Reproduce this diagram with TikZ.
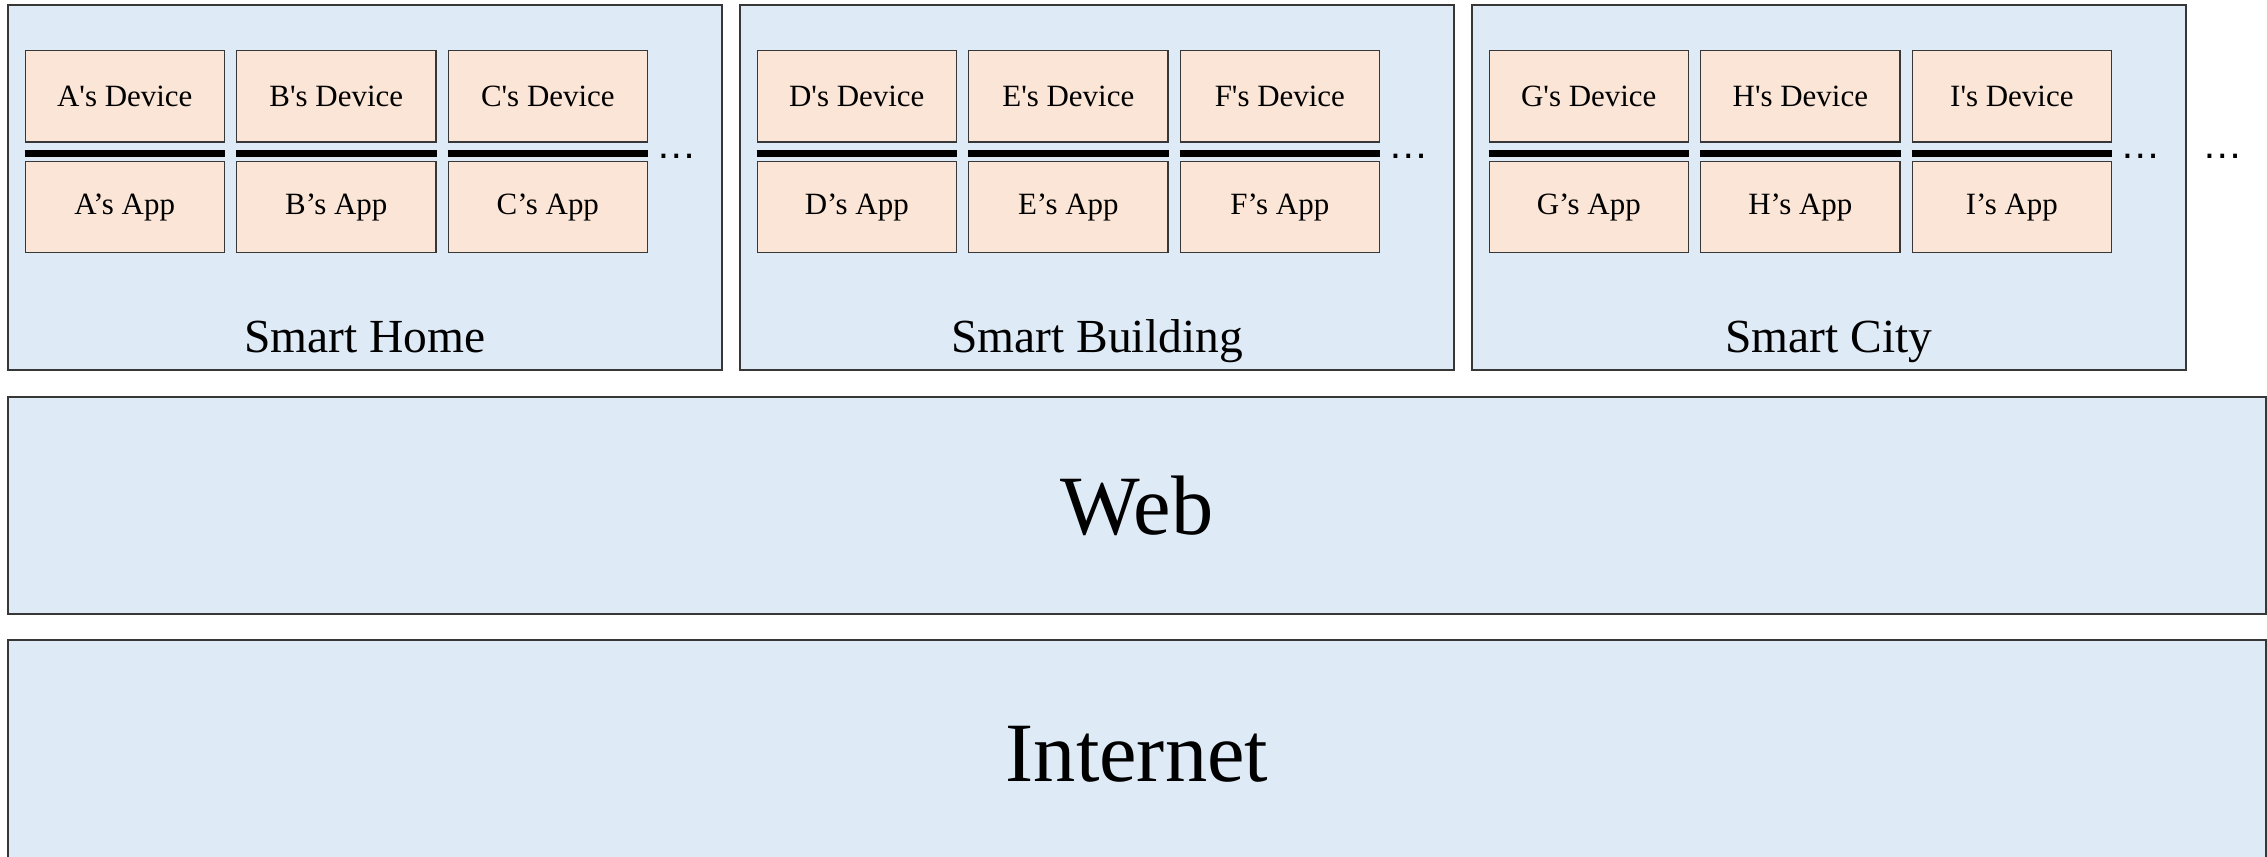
\documentclass[tikz,border=0pt]{standalone}
\usepackage{fontspec}
\setmainfont{Liberation Serif}
\setsansfont{Liberation Sans}
\definecolor{palesky}{RGB}{222,234,246}
\definecolor{palepeach}{RGB}{251,229,214}
\definecolor{edgegrey}{RGB}{55,55,55}
\usetikzlibrary{positioning}

\begin{document}
\begin{tikzpicture}[x=0.01cm,y=-0.01cm,
    layer/.style={draw=edgegrey, fill=palesky, line width=0.45pt, inner sep=0pt},
    unit/.style={draw=edgegrey, fill=palepeach, line width=0.4pt, inner sep=0pt,
      minimum width=1.99cm, minimum height=0.91cm, font=\fontsize{8.8}{10}\selectfont},
    grouptitle/.style={anchor=base, inner sep=0pt, font=\fontsize{13.5}{16}\selectfont},
    bigtitle/.style={font=\fontsize{24}{28}\selectfont},
    link/.style={line width=1.9pt},
    more/.style={anchor=base west, inner sep=0pt, font=\sffamily\fontsize{11.5}{12}\selectfont}]
  \useasboundingbox (0,0) rectangle (2267,856);

  % the three application areas
  \foreach \g/\x/\title/\p/\q/\r in {home/7/Smart Home/A/B/C,
      building/739/Smart Building/D/E/F, city/1471/Smart City/G/H/I} {
    \node[layer, anchor=north west, minimum width=7.14cm, minimum height=3.65cm] (\g) at (\x,4) {};
    \node[grouptitle] (\g title) at ([yshift=0.18cm]\g.south) {\title};
    \node[unit, anchor=north west] (dev\p) at ([xshift=0.175cm,yshift=-0.46cm]\g.north west) {\p\textquotesingle s Device};
    \node[unit, right=0.11cm of dev\p] (dev\q) {\q\textquotesingle s Device};
    \node[unit, right=0.11cm of dev\q] (dev\r) {\r\textquotesingle s Device};
    \node[unit, below=0.185cm of dev\p] (app\p) {\p’s App};
    \node[unit, below=0.185cm of dev\q] (app\q) {\q’s App};
    \node[unit, below=0.185cm of dev\r] (app\r) {\r’s App};
    \foreach \d in {\p,\q,\r}
      \draw[link] ([yshift=-0.11cm]dev\d.south west) -- ([yshift=-0.11cm]dev\d.south east);
    \node[more] (more\r) at ([xshift=0.08cm,yshift=-0.16cm]dev\r.south east) {…};
  }
  \path (city.east |- moreI.base) coordinate (dotsbase);
  \node[more] (moregroups) at ([xshift=0.15cm]dotsbase) {…};

  % lower layers
  \node[layer, bigtitle, anchor=north west, minimum width=22.57cm, minimum height=2.17cm] (web) at (7,396) {Web};
  \node[layer, bigtitle, anchor=north west, minimum width=22.57cm, minimum height=2.28cm] (internet) at (7,639) {Internet};
\end{tikzpicture}
\end{document}
